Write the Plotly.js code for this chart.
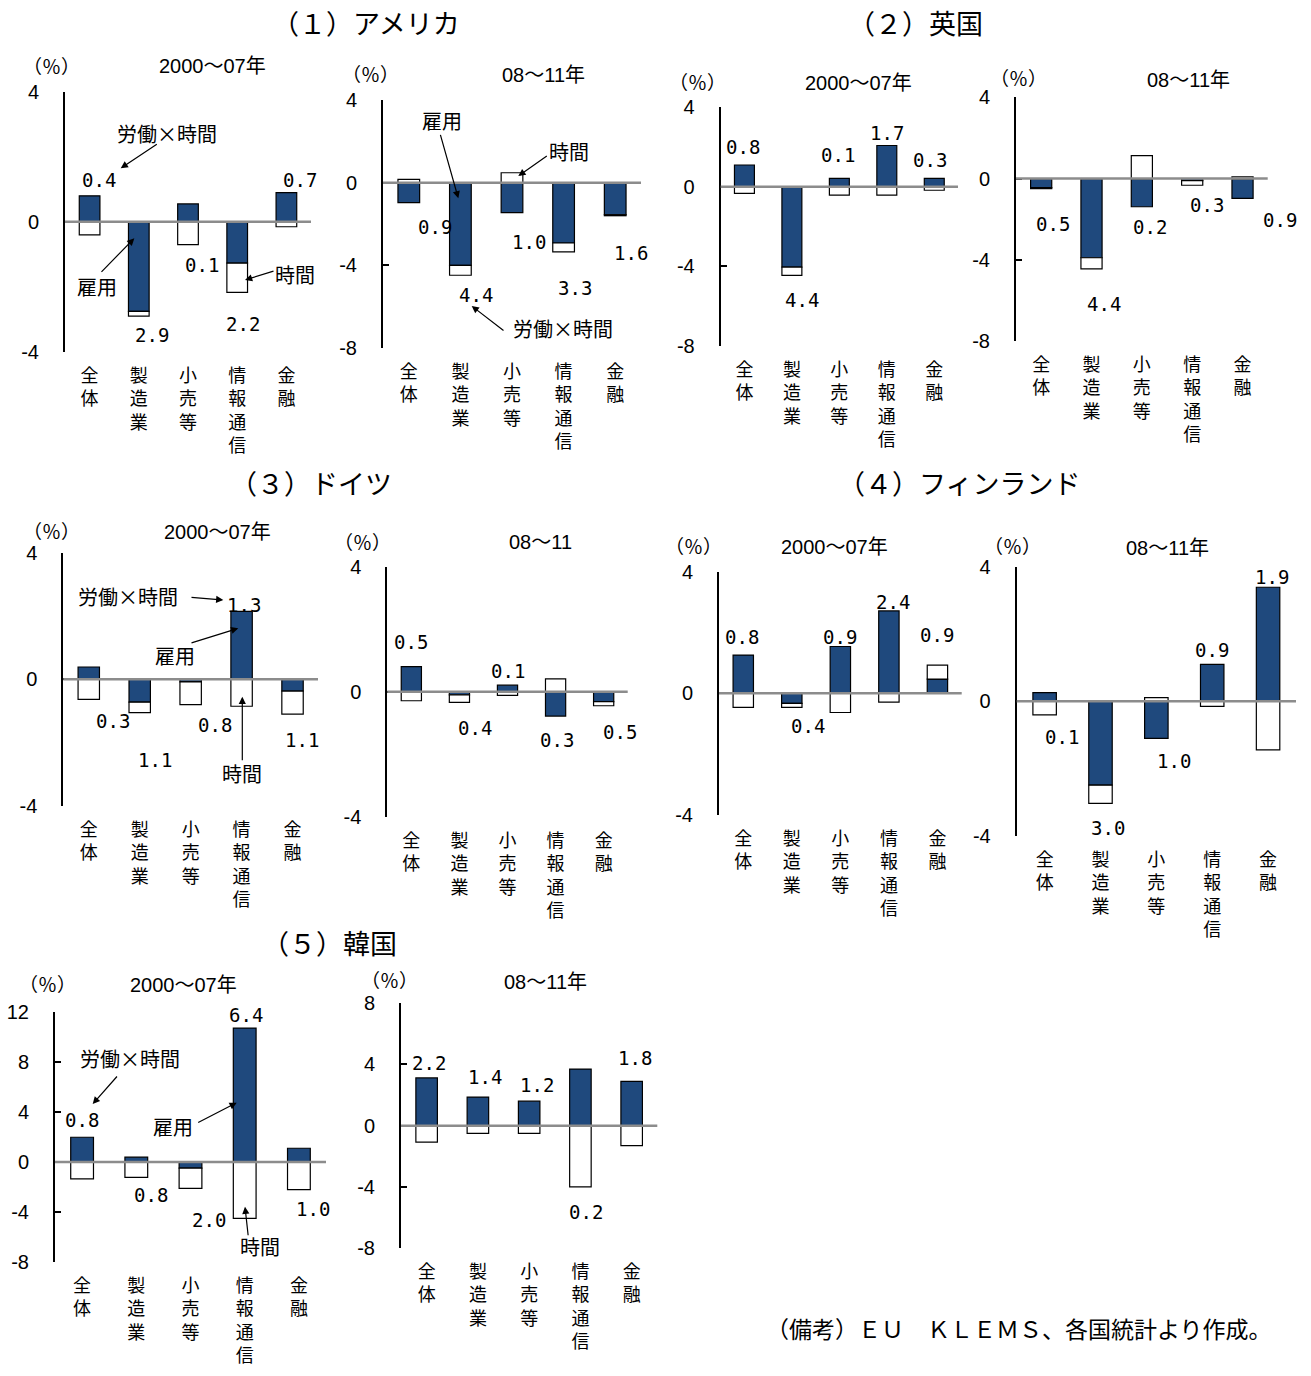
<!DOCTYPE html>
<html><head><meta charset="utf-8">
<script src="https://cdn.plot.ly/plotly-3.0.1.min.js"></script>
<style>body{margin:0;background:#fff}#chart{width:1311px;height:1376px}</style>
</head><body><div id="chart"></div>
<script>
// ---- data (雇用 = employment contribution, 時間 = hours contribution, labels = 労働×時間 totals as printed) ----
const categories = ['全体','製造業','小売等','情報通信','金融'];

const usEmp0007 = [0.80, -2.75, 0.55, -1.27, 0.90];
const usHrs0007 = [-0.40, -0.15, -0.70, -0.90, -0.15];
const usLab0007 = ['0.4','2.9','0.1','2.2','0.7'];

const usEmp0811 = [-0.97, -4.00, -1.45, -2.92, -1.55];
const usHrs0811 = [0.16, -0.48, 0.48, -0.43, -0.05];
const usLab0811 = ['0.9','4.4','1.0','3.3','1.6'];

const ukEmp0007 = [1.10, -4.03, 0.43, 2.08, 0.43];
const ukHrs0007 = [-0.33, -0.42, -0.42, -0.42, -0.17];
const ukLab0007 = ['0.8','4.4','0.1','1.7','0.3'];

const ukEmp0811 = [-0.45, -3.90, -1.39, -0.10, -0.98];
const ukHrs0811 = [-0.05, -0.55, 1.13, -0.23, 0.08];
const ukLab0811 = ['0.5','4.4','0.2','0.3','0.9'];

const deEmp0007 = [0.39, -0.72, -0.08, 2.15, -0.37];
const deHrs0007 = [-0.63, -0.33, -0.72, -0.85, -0.73];
const deLab0007 = ['0.3','1.1','0.8','1.3','1.1'];

const deEmp0811 = [0.80, -0.10, 0.21, -0.78, -0.32];
const deHrs0811 = [-0.29, -0.24, -0.12, 0.41, -0.13];
const deLab0811 = ['0.5','0.4','0.1','0.3','0.5'];

const fiEmp0007 = [1.26, -0.33, 1.54, 2.71, 0.47];
const fiHrs0007 = [-0.46, -0.13, -0.63, -0.29, 0.46];
const fiLab0007 = ['0.8','0.4','0.9','2.4','0.9'];

const fiEmp0811 = [0.26, -2.49, -1.10, 1.10, 3.39];
const fiHrs0811 = [-0.40, -0.54, 0.11, -0.15, -1.44];
const fiLab0811 = ['0.1','3.0','1.0','0.9','1.9'];

const krEmp0007 = [1.99, 0.40, -0.48, 10.74, 1.11];
const krHrs0007 = [-1.35, -1.22, -1.62, -4.50, -2.20];
const krLab0007 = ['0.8','0.8','2.0','6.4','1.0'];

const krEmp0811 = [3.12, 1.87, 1.60, 3.70, 2.90];
const krHrs0811 = [-1.08, -0.50, -0.50, -4.00, -1.31];
const krLab0811 = ['2.2','1.4','1.2','0.2','1.8'];

const countryTitles = ['（１）アメリカ','（２）英国','（３）ドイツ','（４）フィンランド','（５）韓国'];
const periodTexts = ['2000～07年','08～11年','2000～07年','08～11年','2000～07年','08～11','2000～07年','08～11年','2000～07年','08～11年'];
const unitText = '（％）';
const noteText = '（備考）ＥＵ　ＫＬＥＭＳ、各国統計より作成。';

// ---- layout helpers ----
const W = 1311, H = 1376;
const PX = x => x / W, PY = y => 1 - y / H;
const CJK = 'Noto Sans CJK JP, sans-serif';
const NUM = 'Liberation Sans Narrow, Liberation Sans, Arial, sans-serif';
const BLUE = '#1F497D';

const panels = [
  {emp: usEmp0007, hrs: usHrs0007, lab: usLab0007, xd:[65,311], yd:[91.7,352], range:[-4,4],
   off:[[9,16],[13,-19],[14,-20],[6,-32],[14,13]], pct:[52,65], per:[212,66]},
  {emp: usEmp0811, hrs: usHrs0811, lab: usLab0811, xd:[383,641], yd:[100,348], range:[-8,4],
   off:[[26,-24],[16,-20],[17,-29],[11,-36],[16,-37]], pct:[370,74], per:[543,75]},
  {emp: ukEmp0007, hrs: ukHrs0007, lab: ukLab0007, xd:[720.7,958], yd:[107.3,346], range:[-8,4],
   off:[[-1,18],[10,-25],[-1,23],[0,12],[-4,18]], pct:[698,81], per:[858,83]},
  {emp: ukEmp0811, hrs: ukHrs0811, lab: ukLab0811, xd:[1016,1267.7], yd:[97.3,341], range:[-8,4],
   off:[[12,-35],[12,-35],[8,-20],[15,-20],[37,-22]], pct:[1018,78], per:[1188,80]},
  {emp: deEmp0007, hrs: deHrs0007, lab: deLab0007, xd:[63.3,318], yd:[552.7,806], range:[-4,4],
   off:[[24,-22],[15,-47],[24,-20],[2,6],[9,-26]], pct:[52,530], per:[217,532]},
  {emp: deEmp0811, hrs: deHrs0811, lab: deLab0811, xd:[387.3,627.7], yd:[566.7,816.7], range:[-4,4],
   off:[[0,25],[16,-26],[0,14],[1,-24],[16,-26]], pct:[362,541], per:[540,542]},
  {emp: fiEmp0007, hrs: fiHrs0007, lab: fiLab0007, xd:[719,961.7], yd:[571.7,815], range:[-4,4],
   off:[[-1,18],[16,-19],[0,10],[4,9],[0,30]], pct:[693,546], per:[835,547]},
  {emp: fiEmp0811, hrs: fiHrs0811, lab: fiLab0811, xd:[1016.7,1296], yd:[566.7,836], range:[-4,4],
   off:[[17,-22],[8,-25],[18,-23],[0,14],[4,10]], pct:[1012,545], per:[1167,548]},
  {emp: krEmp0007, hrs: krHrs0007, lab: krLab0007, xd:[55,326], yd:[1012.3,1262], range:[-8,12],
   off:[[0,17],[15,-18],[18,-32],[1,13],[14,-19]], pct:[47,983], per:[183,985]},
  {emp: krEmp0811, hrs: krHrs0811, lab: krLab0811, xd:[401,657.3], yd:[1003.3,1248], range:[-8,8],
   off:[[2,15],[7,20],[8,16],[6,-25],[3,23]], pct:[389,979], per:[545,982]}
];

const data = [], annotations = [], shapes = [];
const layout = {
  width: W, height: H, margin: {l:0, r:0, t:0, b:0}, autosize: false,
  paper_bgcolor: '#fff', plot_bgcolor: 'rgba(0,0,0,0)',
  barmode: 'relative', showlegend: false, font: {family: CJK, color: '#000'}
};

function paperText(text, x, y, font, xanchor) {
  annotations.push({xref:'paper', yref:'paper', x:PX(x), y:PY(y), text:text,
    xanchor: xanchor || 'center', yanchor:'middle', showarrow:false, font:font});
}

panels.forEach((p, i) => {
  const s = i === 0 ? '' : String(i + 1);
  const xa = 'x' + s, ya = 'y' + s;
  data.push({type:'bar', x:categories, y:p.emp, xaxis:xa, yaxis:ya, width:0.42, name:'雇用',
    marker:{color:BLUE, line:{color:'#000', width:1.2}}, hoverinfo:'skip'});
  data.push({type:'bar', x:categories, y:p.hrs, xaxis:xa, yaxis:ya, width:0.42, name:'時間',
    marker:{color:'#fff', line:{color:'#000', width:1.2}}, hoverinfo:'skip'});
  const tv = [];
  for (let v = p.range[0]; v <= p.range[1]; v += 4) tv.push(v);
  layout['xaxis' + s] = {
    domain:[p.xd[0]/W, p.xd[1]/W], anchor:ya, type:'category',
    categoryorder:'array', categoryarray:categories, range:[-0.5, 4.5],
    showline:false, ticks:'', showgrid:false, zeroline:false, fixedrange:true,
    tickmode:'array', tickvals:categories, ticktext:categories.map(c => c.split('').join('<br>')),
    tickfont:{family:CJK, size:18, color:'#000'}, ticklabelstandoff:11, tickangle:0
  };
  layout['yaxis' + s] = {
    domain:[1 - p.yd[1]/H, 1 - p.yd[0]/H], anchor:xa, range:p.range,
    tickmode:'array', tickvals:tv, ticktext:tv.map(v => String(v)),
    showline:true, linecolor:'#000', linewidth:2,
    ticks:'inside', ticklen:6, tickwidth:2, tickcolor:'#000',
    showgrid:false, zeroline:false, fixedrange:true,
    tickfont:{family:NUM, size:20, color:'#000'}, ticklabelstandoff:20
  };
  shapes.push({type:'line', xref:xa + ' domain', yref:ya, x0:0, x1:1, y0:0, y1:0,
    line:{color:'#8c8c8c', width:2.5}, layer:'above'});
  categories.forEach((c, j) => {
    const e = p.emp[j], h = p.hrs[j];
    const top = Math.max(e, 0) + Math.max(h, 0);
    const bot = Math.min(e, 0) + Math.min(h, 0);
    const [dx, dy] = p.off[j];
    annotations.push({xref:xa, yref:ya, x:c, y: dy > 0 ? top : bot, xshift:dx, yshift:dy,
      xanchor:'center', yanchor:'middle',
      text:p.lab[j], showarrow:false, font:{family:'DejaVu Sans Mono, monospace', size:19, color:'#000'}});
  });
  paperText(unitText, p.pct[0], p.pct[1], {family:CJK, size:19, color:'#000'});
  paperText(periodTexts[i], p.per[0], p.per[1],
    {family:'Liberation Sans Narrow, Liberation Sans, Noto Sans CJK JP, sans-serif', size:20, color:'#000'});
});

// country titles
const titlePos = [[366,22],[915,22],[311,482],[959,482],[329,942]];
countryTitles.forEach((t, i) => paperText(t, titlePos[i][0], titlePos[i][1], {family:CJK, size:27, color:'#000'}));

// callout texts and arrows (pixel positions)
const callTexts = [
  ['労働×時間',166.7,133.3],['雇用',96.7,286.7],['時間',295,275],
  ['雇用',441.7,120],['時間',569.3,151.7],['労働×時間',563.3,328.3],
  ['労働×時間',128.3,596.7],['雇用',175,655],['時間',242.3,773.3],
  ['労働×時間',130,1058.3],['雇用',173.3,1126.7],['時間',260,1246.7]
];
callTexts.forEach(([t, x, y]) => paperText(t, x, y, {family:CJK, size:20, color:'#000'}));
const arrows = [ // [headX, headY, tailX, tailY]
  [120.7,168.3,158.3,143.3],[134.3,238.3,100,273.3],[245,280,275,270.7],
  [458.3,198.3,440,133.3],[518.3,176,548.3,155],[471.7,306,505,331.7],
  [223.3,600,190,597.3],[238.3,628.3,190,643.3],[242.3,696.7,242.3,761.7],
  [92.7,1104,118.3,1075],[236.7,1102.7,196.7,1123.3],[245,1206.7,248.3,1236.7]
];
arrows.forEach(([hx, hy, tx, ty]) => annotations.push({xref:'paper', yref:'paper', x:PX(hx), y:PY(hy),
  ax: tx - hx, ay: ty - hy, axref:'pixel', ayref:'pixel', text:'', showarrow:true,
  arrowhead:2, arrowsize:1.2, arrowwidth:1.2, arrowcolor:'#000'}));

paperText(noteText, 764, 1328, {family:CJK, size:23, color:'#000'}, 'left');

layout.annotations = annotations;
layout.shapes = shapes;
Plotly.newPlot('chart', data, layout, {staticPlot:true, displayModeBar:false});
</script>
</body></html>
